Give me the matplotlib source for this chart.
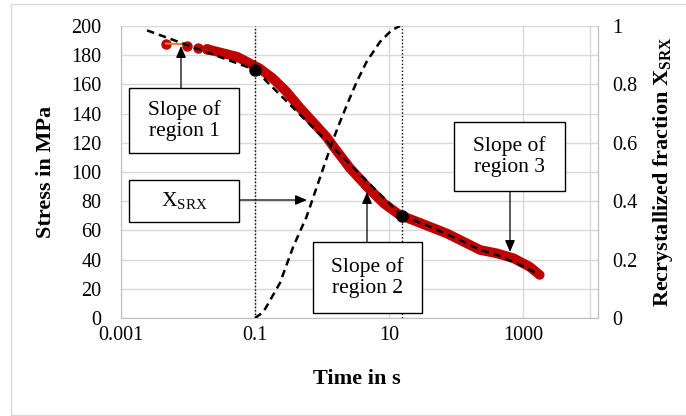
import matplotlib
matplotlib.use('Agg')
import matplotlib.pyplot as plt
import numpy as np
from matplotlib.patches import Rectangle

plt.rcParams['font.family'] = 'Liberation Serif'
plt.rcParams['mathtext.fontset'] = 'custom'
plt.rcParams['mathtext.rm'] = 'Liberation Serif'
plt.rcParams['mathtext.bf'] = 'Liberation Serif:bold'

# Messdaten Spannung (Zeit in s, Spannung in MPa)
t_stress = [0.00468, 0.00955, 0.0141, 0.0191, 0.0339, 0.0537, 0.0832, 0.117, 0.186,
            0.295, 0.468, 0.741, 1.17, 1.48, 2.63, 4.68, 8.32, 14.5, 22.9, 40.7,
            72.4, 129, 229, 407, 724, 1259, 1778]
stress = [188, 186.3, 185.1, 184.2, 181.3, 179, 174.5, 171, 164,
          155, 144, 134, 124, 117.5, 102.5, 90, 78.6, 70.5, 67, 62.5,
          58, 52.3, 46.6, 44.3, 40.9, 35.1, 29.5]

# Anpassungsgeraden der drei Bereiche
t_fit1 = [0.00245, 0.1]
s_fit1 = [197, 170]
t_fit2 = [0.1, 15.5]
s_fit2 = [170, 70]
t_fit3 = [15.5, 40.7, 129, 229, 407, 813, 1778]
s_fit3 = [70.5, 62.5, 52.3, 46.6, 43.2, 37.5, 29.5]

# Uebergangspunkte
t_knick = [0.1, 15.5]
s_knick = [170, 70]

# Rekristallisierter Anteil X_SRX
t_srx = [0.1, 0.133, 0.236, 0.372, 0.589, 1.43, 1.86, 2.47, 3.30, 4.65, 7.35, 11.0, 14.6]
x_srx = [0, 0.02, 0.12, 0.244, 0.347, 0.604, 0.672, 0.741, 0.809, 0.878, 0.946, 0.986, 1.0]

W, H = 686, 416
fig = plt.figure(figsize=(W / 100, H / 100), dpi=100)
ax = fig.add_axes([121 / W, 1 - 318 / H, (598 - 121) / W, 292 / H])
grau = '#D9D9D9'

# Rahmen um die Grafik
fig.patches.append(Rectangle((11 / W, 1 - 415 / H), 1, 411 / H, transform=fig.transFigure,
                             fill=False, edgecolor=grau, lw=1))

ax.set_xscale('log')
ax.set_xlim(1e-3, 10 ** 4.12)
ax.set_ylim(0, 200)
ax.set_xticks([1e-3, 1e-1, 1e1, 1e3])
ax.set_xticklabels(['0.001', '0.1', '10', '1000'])
ax.xaxis.set_minor_locator(matplotlib.ticker.NullLocator())
ax.set_yticks(np.arange(0, 201, 20))
ax.tick_params(axis='both', length=0, labelsize=14.5)
ax.tick_params(axis='y', pad=14)
ax.tick_params(axis='x', pad=6)
ax.grid(True, color=grau, lw=1)
ax.axvline(1e4, color=grau, lw=1)
ax.spines['top'].set_visible(False)
for s in ['left', 'bottom', 'right']:
    ax.spines[s].set_color('#BFBFBF')
ax.set_axisbelow(True)

# Messkurve
ax.plot(t_stress[:4], stress[:4], 'o', color='#C00000', ms=6.5, mec='#C00000', zorder=3)
ax.plot(t_stress[3:], stress[3:], '-', color='#C00000', lw=7, solid_capstyle='round', zorder=3)
ax.plot(t_stress[:2], [stress[0], stress[0] - 0.5], color='#ED7D31', lw=1.5, zorder=3)

ax.axvline(t_knick[0], color='black', lw=1, ls=(0, (1, 1.5)), zorder=4)
ax.axvline(t_knick[1], color='black', lw=1, ls=(0, (1, 1.5)), zorder=4)

dash = (0, (3, 2))
ax.plot(t_fit1, s_fit1, color='black', lw=1.8, ls=dash, zorder=5)
ax.plot(t_fit2, s_fit2, color='black', lw=1.8, ls=dash, zorder=5)
ax.plot(t_fit3, s_fit3, color='black', lw=1.8, ls=dash, zorder=5)
ax.plot(t_knick, s_knick, 'o', color='black', ms=8, zorder=6)

ax2 = ax.twinx()
ax2.set_ylim(0, 1)
ax2.set_yticks(np.arange(0, 1.01, 0.2))
ax2.set_yticklabels(['0', '0.2', '0.4', '0.6', '0.8', '1'])
ax2.tick_params(axis='y', length=0, labelsize=14.5, pad=10)
for s in ['top', 'left', 'bottom']:
    ax2.spines[s].set_visible(False)
ax2.spines['right'].set_color('#BFBFBF')
ax2.plot(t_srx, x_srx, color='black', lw=1.8, ls=dash, zorder=5)

# Textkaesten mit Pfeilen (Pixelkoordinaten -> Achsenanteile)
def ax_frac(px, py):
    return ((px - 121) / 477, (318 - py) / 292)

kaesten = [
    ('Slope of\nregion 1', (129, 88, 239, 153), (181, 88), (181, 46)),
    (r'X$_{\mathrm{SRX}}$', (129, 180, 239, 222), (239, 200), (307, 200)),
    ('Slope of\nregion 2', (313, 242, 422, 313), (367, 242), (367, 192)),
    ('Slope of\nregion 3', (454, 122, 565, 191), (510, 191), (510, 252)),
]
for txt, (x0, y0, x1, y1), start, tip in kaesten:
    ax2.annotate('', xy=ax_frac(*tip), xytext=ax_frac(*start),
                 xycoords='axes fraction', textcoords='axes fraction',
                 arrowprops=dict(arrowstyle='-|>,head_length=0.7,head_width=0.3',
                                 color='black', lw=0.9, shrinkA=0, shrinkB=0), zorder=7)
    a0 = ax_frac(x0, y1)
    a1 = ax_frac(x1, y0)
    ax2.add_patch(Rectangle(a0, a1[0] - a0[0], a1[1] - a0[1], transform=ax2.transAxes,
                            facecolor='white', edgecolor='black', lw=1, zorder=8, clip_on=False))
    cx, cy = ax_frac((x0 + x1) / 2, (y0 + y1) / 2)
    ax2.text(cx, cy, txt, transform=ax2.transAxes, ha='center', va='center',
             fontsize=15.5, linespacing=1.15, zorder=9)

fig.text(357 / W, 1 - 379 / H, 'Time in s', ha='center', va='center',
         fontsize=16, fontweight='bold')
fig.text(46 / W, 1 - 172 / H, 'Stress in MPa', ha='center', va='center',
         rotation=90, fontsize=16, fontweight='bold')
fig.text(663 / W, 1 - 172 / H, r'Recrystallized fraction X$_{\mathbf{SRX}}$', ha='center',
         va='center', rotation=90, fontsize=16, fontweight='bold')

fig.savefig('out.png', dpi=100)
